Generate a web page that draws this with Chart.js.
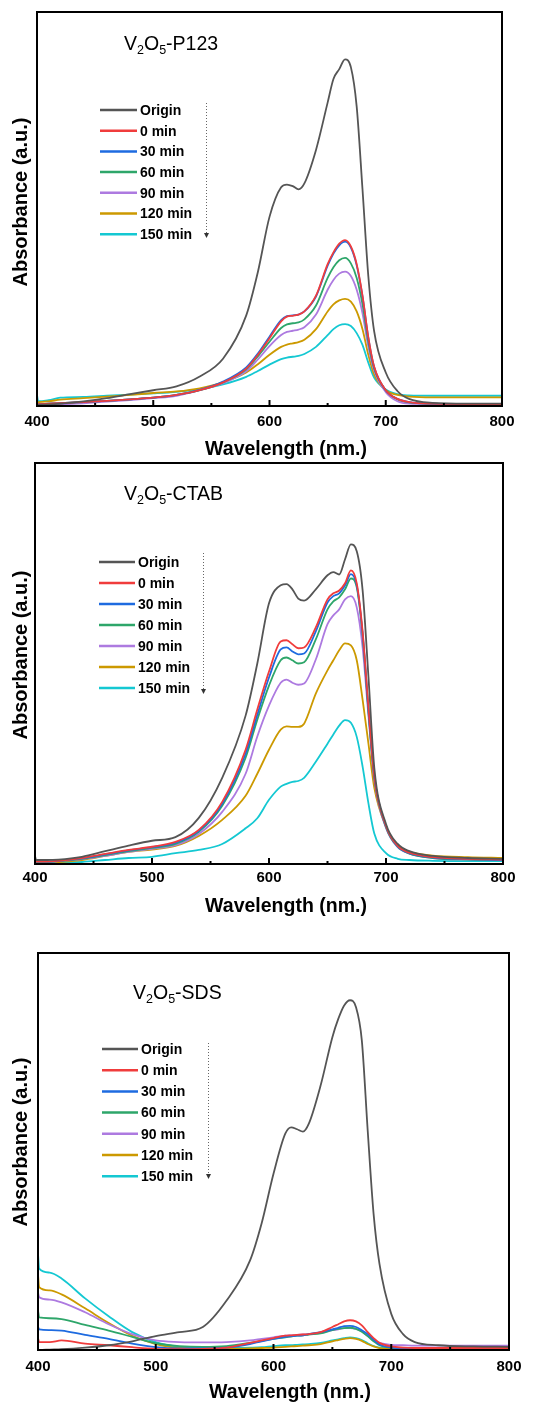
<!DOCTYPE html>
<html>
<head>
<meta charset="utf-8">
<script src="https://cdn.jsdelivr.net/npm/chart.js@4.4.1/dist/chart.umd.min.js"></script>
<style>
body { margin: 0; background: #fff; width: 548px; height: 1402px; overflow: hidden; position: relative; }
canvas { position: absolute; left: 0; }
</style>
</head>
<body>
<canvas id="c1" width="548" height="460" style="top:0px"></canvas>
<canvas id="c2" width="548" height="475" style="top:460px"></canvas>
<canvas id="c3" width="548" height="467" style="top:935px"></canvas>
<script>
// wavelength grid (nm), shared by all three panels
const wl = [400,401,410,420,440,460,480,500,520,540,560,580,590,600,610,615,620,625,630,640,650,655,660,665,670,675,680,685,690,700,710,720,740,770,800];

const names = ['Origin', '0 min', '30 min', '60 min', '90 min', '120 min', '150 min'];
const colors = ['#555555', '#f03c3c', '#1e6be0', '#2ea66a', '#ad7ae0', '#cc9900', '#14c8d2'];
const xTicks = [400, 500, 600, 700, 800];

// V2O5-P123
const p123Origin = [.003,.003,.004,.006,.012,.02,.03,.04,.05,.075,.12,.23,.34,.48,.555,.562,.558,.55,.565,.65,.77,.83,.855,.88,.86,.76,.55,.33,.19,.085,.038,.018,.008,.006,.006];
const p123_0 = [.005,.005,.006,.007,.01,.013,.017,.021,.028,.04,.06,.095,.13,.172,.215,.227,.229,.232,.24,.28,.36,.39,.412,.421,.405,.36,.28,.175,.1,.04,.018,.01,.006,.005,.005];
const p123_30 = [.005,.005,.006,.007,.01,.013,.017,.021,.028,.041,.062,.098,.133,.176,.218,.228,.23,.232,.24,.278,.356,.387,.408,.417,.402,.357,.278,.173,.099,.04,.018,.01,.006,.005,.005];
const p123_60 = [.005,.005,.006,.007,.01,.013,.017,.021,.028,.04,.06,.093,.126,.163,.198,.207,.21,.212,.22,.255,.325,.352,.37,.376,.362,.325,.258,.163,.095,.04,.017,.009,.006,.005,.005];
const p123_90 = [.003,.003,.003,.004,.007,.011,.015,.02,.026,.04,.058,.088,.118,.152,.18,.188,.191,.194,.2,.232,.295,.32,.336,.341,.33,.295,.235,.15,.09,.035,.012,.006,.005,.005,.005];
const p123_120 = [.012,.01,.012,.016,.02,.024,.028,.033,.037,.045,.06,.085,.106,.13,.15,.156,.159,.162,.168,.195,.24,.258,.268,.272,.265,.24,.195,.13,.08,.04,.028,.024,.022,.022,.022];
const p123_150 = [.028,.012,.015,.021,.023,.026,.029,.032,.036,.043,.055,.074,.089,.105,.119,.123,.125,.127,.132,.15,.18,.195,.205,.208,.203,.185,.155,.11,.072,.042,.03,.027,.026,.026,.026];

// V2O5-CTAB
const ctabOrigin = [.02,.01,.01,.011,.018,.032,.046,.058,.067,.115,.215,.37,.5,.65,.695,.698,.685,.662,.657,.685,.72,.728,.722,.76,.797,.78,.683,.467,.24,.1,.05,.032,.02,.015,.013];
const ctab_0 = [.006,.006,.006,.008,.015,.025,.035,.043,.055,.085,.155,.285,.385,.48,.555,.558,.548,.538,.54,.59,.66,.675,.682,.7,.732,.7,.58,.39,.22,.095,.045,.028,.017,.013,.011];
const ctab_30 = [.006,.006,.006,.008,.014,.024,.034,.042,.053,.083,.15,.275,.372,.465,.535,.54,.53,.523,.525,.58,.652,.668,.675,.695,.723,.695,.575,.385,.218,.094,.044,.027,.016,.012,.01];
const ctab_60 = [.005,.005,.005,.007,.013,.022,.032,.04,.05,.08,.145,.265,.36,.445,.508,.515,.508,.5,.503,.56,.635,.655,.665,.685,.712,.69,.57,.38,.215,.092,.043,.026,.015,.011,.01];
const ctab_90 = [.005,.005,.005,.007,.012,.02,.03,.038,.047,.075,.13,.225,.318,.395,.452,.46,.452,.447,.45,.51,.598,.62,.635,.66,.668,.64,.54,.37,.21,.09,.042,.026,.015,.011,.01];
const ctab_120 = [.003,.003,.004,.005,.01,.02,.03,.036,.045,.07,.11,.17,.225,.285,.335,.343,.342,.342,.35,.425,.483,.508,.533,.55,.545,.508,.41,.3,.19,.093,.045,.03,.021,.017,.015];
const ctab_150 = [.003,.003,.003,.003,.005,.01,.015,.018,.027,.035,.05,.089,.114,.16,.193,.2,.205,.207,.215,.255,.3,.323,.345,.359,.352,.317,.243,.151,.076,.027,.013,.01,.008,.007,.007];

// V2O5-SDS
const sdsOrigin = [0,0,.001,.002,.006,.012,.022,.035,.045,.058,.124,.225,.32,.444,.545,.561,.556,.55,.57,.666,.788,.834,.868,.881,.864,.78,.553,.343,.217,.091,.04,.02,.012,.009,.008];
const sds_0 = [.03,.02,.02,.024,.016,.012,.007,.003,.002,.003,.006,.018,.024,.03,.036,.037,.038,.039,.04,.045,.058,.065,.072,.075,.072,.062,.045,.03,.018,.009,.006,.005,.005,.005,.005];
const sds_30 = [.058,.052,.05,.049,.038,.028,.016,.007,.004,.004,.006,.015,.022,.028,.033,.035,.036,.037,.04,.045,.052,.056,.06,.061,.058,.05,.04,.026,.014,.006,.005,.005,.005,.005,.005];
const sds_60 = [.1,.082,.08,.078,.063,.049,.033,.017,.01,.008,.01,.018,.023,.028,.032,.034,.036,.037,.039,.042,.05,.053,.055,.056,.053,.046,.035,.022,.012,.006,.005,.005,.005,.005,.005];
const sds_90 = [.145,.133,.127,.12,.095,.065,.04,.024,.02,.019,.02,.024,.028,.032,.036,.037,.038,.039,.04,.044,.05,.052,.055,.055,.053,.047,.035,.025,.018,.013,.012,.011,.011,.011,.011];
const sds_120 = [.19,.158,.15,.14,.105,.068,.036,.015,.005,.003,.003,.004,.005,.006,.008,.009,.01,.011,.012,.015,.022,.025,.028,.03,.028,.023,.015,.009,.005,.003,.003,.003,.003,.003,.003];
const sds_150 = [.242,.205,.195,.18,.13,.085,.045,.02,.008,.005,.005,.006,.007,.01,.012,.012,.013,.014,.015,.018,.024,.027,.03,.032,.03,.025,.017,.01,.006,.004,.004,.004,.004,.004,.004];

const FONT = '"Liberation Sans", Arial, sans-serif';

// draws frame, inward ticks, titles, legend and arrow
const deco = {
  id: 'deco',
  afterDraw(chart, args, o) {
    const ctx = chart.ctx, a = chart.chartArea, xs = chart.scales.x;
    ctx.save();
    ctx.strokeStyle = '#000';
    ctx.lineWidth = 2;
    ctx.strokeRect(a.left, a.top, a.right - a.left, a.bottom - a.top);
    for (let i = 0; i < xTicks.length; i++) {
      let px = xs.getPixelForValue(xTicks[i]);
      ctx.beginPath(); ctx.moveTo(px, a.bottom); ctx.lineTo(px, a.bottom - 6); ctx.stroke();
      if (i < xTicks.length - 1) {
        px = xs.getPixelForValue((xTicks[i] + xTicks[i + 1]) / 2);
        ctx.beginPath(); ctx.moveTo(px, a.bottom); ctx.lineTo(px, a.bottom - 3); ctx.stroke();
      }
    }

    ctx.fillStyle = '#000';
    ctx.textBaseline = 'middle';
    ctx.textAlign = 'center';
    ctx.font = 'bold 19.5px ' + FONT;
    ctx.fillText('Wavelength (nm.)', o.xTitle[0], o.xTitle[1]);
    ctx.save();
    ctx.translate(o.yTitle[0], o.yTitle[1]);
    ctx.rotate(-Math.PI / 2);
    ctx.font = 'bold 20px ' + FONT;
    ctx.fillText('Absorbance (a.u.)', 0, 0);
    ctx.restore();

    // V2O5-xxx with subscripts
    ctx.textAlign = 'left';
    ctx.textBaseline = 'alphabetic';
    let tx = o.title[0];
    const ty = o.title[1];
    const parts = [['V', 0], ['2', 1], ['O', 0], ['5', 1], ['-' + o.name, 0]];
    parts.forEach(p => {
      ctx.font = p[1] ? '12.5px ' + FONT : '19.5px ' + FONT;
      ctx.fillText(p[0], tx, ty + (p[1] ? 4 : 0));
      tx += ctx.measureText(p[0]).width;
    });

    // legend
    ctx.font = 'bold 14px ' + FONT;
    ctx.textBaseline = 'middle';
    ctx.lineWidth = 2.5;
    names.forEach((n, i) => {
      const y = o.legend.y0 + i * o.legend.dy;
      ctx.strokeStyle = colors[i];
      ctx.beginPath(); ctx.moveTo(o.legend.x0, y); ctx.lineTo(o.legend.x1, y); ctx.stroke();
      ctx.fillStyle = '#000';
      ctx.fillText(n, o.legend.x1 + 3, y + 1);
    });

    // dotted arrow
    ctx.strokeStyle = '#666';
    ctx.lineWidth = 1;
    ctx.setLineDash([1, 2]);
    ctx.beginPath(); ctx.moveTo(o.arrow[0] + 0.5, o.arrow[1]); ctx.lineTo(o.arrow[0] + 0.5, o.arrow[2] - 4); ctx.stroke();
    ctx.setLineDash([]);
    ctx.fillStyle = '#333';
    ctx.beginPath();
    ctx.moveTo(o.arrow[0] - 2, o.arrow[2] - 5);
    ctx.lineTo(o.arrow[0] + 3, o.arrow[2] - 5);
    ctx.lineTo(o.arrow[0] + 0.5, o.arrow[2]);
    ctx.closePath();
    ctx.fill();
    ctx.restore();
  }
};

function makeChart(id, series, cfg) {
  const datasets = series.map((s, i) => ({
    label: names[i],
    data: wl.map((w, j) => ({ x: w, y: s[j] })),
    borderColor: colors[i],
    borderWidth: 1.8,
    pointRadius: 0,
    fill: false,
    cubicInterpolationMode: 'monotone'
  }));
  return new Chart(document.getElementById(id), {
    type: 'line',
    data: { datasets: datasets },
    plugins: [deco],
    options: {
      responsive: false,
      animation: false,
      layout: { padding: { top: cfg.top, right: cfg.right, left: 0, bottom: 0 } },
      plugins: {
        legend: { display: false },
        tooltip: { enabled: false },
        deco: cfg.deco
      },
      scales: {
        x: {
          type: 'linear', min: 400, max: 800,
          afterFit: s => { s.height = cfg.xh; },
          afterBuildTicks: s => { s.ticks = xTicks.map(v => ({ value: v })); },
          grid: { display: false, drawTicks: false },
          border: { display: false },
          ticks: { padding: cfg.tp, color: '#000', font: { family: FONT, size: 15, weight: 'bold' } }
        },
        y: {
          min: 0, max: 1,
          afterFit: s => { s.width = cfg.left; },
          grid: { display: false, drawTicks: false },
          border: { display: false },
          ticks: { display: false }
        }
      }
    }
  });
}

makeChart('c1', [p123Origin, p123_0, p123_30, p123_60, p123_90, p123_120, p123_150], {
  top: 12, right: 46, left: 37, xh: 54, tp: 7,
  deco: { name: 'P123', title: [124, 50], xTitle: [286, 450], yTitle: [21, 202],
    legend: { x0: 100, x1: 137, y0: 110, dy: 20.7 }, arrow: [206, 103, 238] }
});
makeChart('c2', [ctabOrigin, ctab_0, ctab_30, ctab_60, ctab_90, ctab_120, ctab_150], {
  top: 3, right: 45, left: 35, xh: 71, tp: 5,
  deco: { name: 'CTAB', title: [124, 40], xTitle: [286, 447], yTitle: [21, 195],
    legend: { x0: 99, x1: 135, y0: 102, dy: 21 }, arrow: [203, 93, 234] }
});
makeChart('c3', [sdsOrigin, sds_0, sds_30, sds_60, sds_90, sds_120, sds_150], {
  top: 18, right: 39, left: 38, xh: 52, tp: 8,
  deco: { name: 'SDS', title: [133, 64], xTitle: [290, 458], yTitle: [21, 207],
    legend: { x0: 102, x1: 138, y0: 114, dy: 21.2 }, arrow: [208, 108, 244] }
});
</script>
</body>
</html>
